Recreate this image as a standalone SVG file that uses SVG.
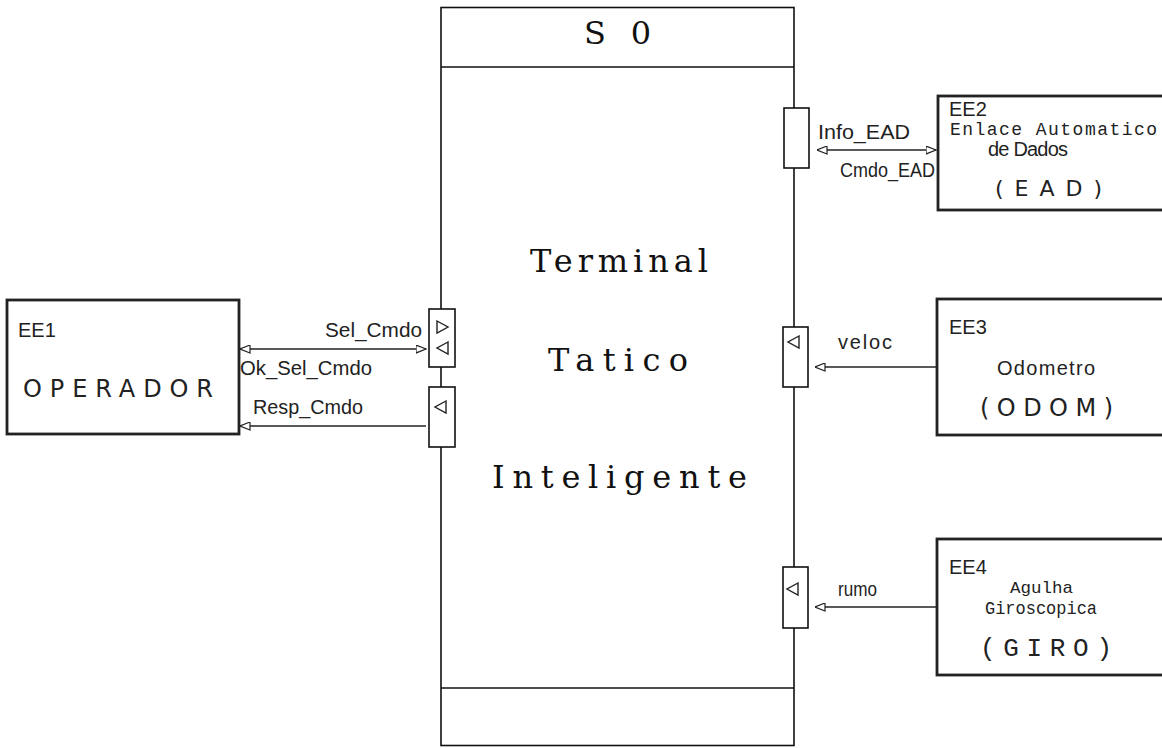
<svg xmlns="http://www.w3.org/2000/svg" width="1162" height="748" viewBox="0 0 1162 748">
<defs>
<style>
.bg{fill:#fff}
.main{fill:none;stroke:#111;stroke-width:1.6}
.ee{fill:#fff;stroke:#222;stroke-width:2.8}
.port{fill:#fff;stroke:#111;stroke-width:1.6}
.sym{fill:#fff;stroke:#222;stroke-width:1.4}
.con{fill:none;stroke:#222;stroke-width:1.3}
.lbl{font-family:"Liberation Sans",Arial,sans-serif;font-size:20px;fill:#222}
.wide{font-family:"DejaVu Sans","Liberation Sans",sans-serif;fill:#222}
.mono{font-family:"Liberation Mono","Courier New",monospace;fill:#222}
.big{font-family:"DejaVu Serif","Liberation Serif",serif;font-size:32px;fill:#111}
</style>
<marker id="ah" viewBox="0 0 11 9" refX="10.5" refY="4.5" markerWidth="11" markerHeight="9" markerUnits="userSpaceOnUse" orient="auto-start-reverse">
<path d="M0.5,0.5 L10.5,4.5 L0.5,8.5 Z" fill="#fff" stroke="#222" stroke-width="1.2"/>
</marker>
</defs>
<rect class="bg" x="0" y="0" width="1162" height="748"/>

<g id="S0">
<rect class="main" x="441" y="7.5" width="353" height="738"/>
<line class="main" x1="441" y1="67" x2="794" y2="67"/>
<line class="main" x1="441" y1="688" x2="794" y2="688"/>
<text class="big" x="584" y="44" font-size="22" textLength="67" lengthAdjust="spacing" xml:space="preserve">S  0</text>
<text class="big" x="530" y="272" textLength="178" lengthAdjust="spacing">Terminal</text>
<text class="big" x="548" y="371" textLength="140" lengthAdjust="spacing">Tatico</text>
<text class="big" x="492" y="488" textLength="255" lengthAdjust="spacing">Inteligente</text>
</g>

<g id="ports">
<rect class="port" x="429" y="309" width="26" height="58"/>
<polygon class="sym" points="437,321 448,327 437,333"/>
<polygon class="sym" points="448,342 437,348 448,354"/>
<rect class="port" x="429" y="387" width="26" height="60"/>
<polygon class="sym" points="446,401 435,407 446,413"/>
<rect class="port" x="784" y="108" width="25" height="60"/>
<rect class="port" x="783" y="327" width="25" height="60"/>
<polygon class="sym" points="799,336 788,342 799,348"/>
<rect class="port" x="783" y="567" width="25" height="61"/>
<polygon class="sym" points="798,583 787,589 798,595"/>
</g>

<g id="EE1">
<rect class="ee" x="7" y="300" width="232" height="134"/>
<text class="lbl" x="18" y="337">EE1</text>
<text class="wide" x="23" y="397" font-size="24" textLength="190" lengthAdjust="spacing">OPERADOR</text>
</g>

<g id="EE2">
<rect class="ee" x="938" y="96" width="240" height="114"/>
<text class="lbl" x="949" y="116" font-size="18">EE2</text>
<text class="mono" x="950" y="135" font-size="18" textLength="207" lengthAdjust="spacing">Enlace Automatico</text>
<text class="lbl" x="988" y="156" font-size="18" textLength="80" lengthAdjust="spacing">de Dados</text>
<text class="wide" x="995" y="196" font-size="22" textLength="107" lengthAdjust="spacing">( E A D )</text>
</g>

<g id="EE3">
<rect class="ee" x="937" y="299" width="240" height="136"/>
<text class="lbl" x="949" y="334" font-size="19">EE3</text>
<text class="lbl" x="997" y="375" font-size="20" textLength="98" lengthAdjust="spacing">Odometro</text>
<text class="wide" x="980" y="416" font-size="24" textLength="133" lengthAdjust="spacing">( O D O M )</text>
</g>

<g id="EE4">
<rect class="ee" x="937" y="539" width="240" height="136"/>
<text class="lbl" x="949" y="574" font-size="19">EE4</text>
<text class="mono" x="1010" y="593" font-size="17" textLength="63" lengthAdjust="spacingAndGlyphs">Agulha</text>
<text class="mono" x="985" y="614" font-size="18" textLength="112" lengthAdjust="spacingAndGlyphs">Giroscopica</text>
<text class="mono" x="980" y="656" font-size="26" textLength="132" lengthAdjust="spacing">( G I R O )</text>
</g>

<g id="connectors">
<line class="con" x1="240" y1="349" x2="426" y2="349" marker-start="url(#ah)" marker-end="url(#ah)"/>
<line class="con" x1="426" y1="426" x2="240" y2="426" marker-end="url(#ah)"/>
<line class="con" x1="817" y1="150" x2="936" y2="150" marker-start="url(#ah)" marker-end="url(#ah)"/>
<line class="con" x1="937" y1="367" x2="815" y2="367" marker-end="url(#ah)"/>
<line class="con" x1="937" y1="607" x2="815" y2="607" marker-end="url(#ah)"/>
<text class="lbl" x="325" y="337" textLength="97" lengthAdjust="spacingAndGlyphs">Sel_Cmdo</text>
<text class="lbl" x="240" y="375" textLength="132" lengthAdjust="spacingAndGlyphs">Ok_Sel_Cmdo</text>
<text class="lbl" x="253" y="414" textLength="110" lengthAdjust="spacingAndGlyphs">Resp_Cmdo</text>
<text class="lbl" x="818" y="139" textLength="92" lengthAdjust="spacingAndGlyphs">Info_EAD</text>
<text class="lbl" x="840" y="177" textLength="95" lengthAdjust="spacingAndGlyphs">Cmdo_EAD</text>
<text class="lbl" x="838" y="349" textLength="54" lengthAdjust="spacing">veloc</text>
<text class="lbl" x="838" y="596" textLength="39" lengthAdjust="spacingAndGlyphs">rumo</text>
</g>
</svg>
